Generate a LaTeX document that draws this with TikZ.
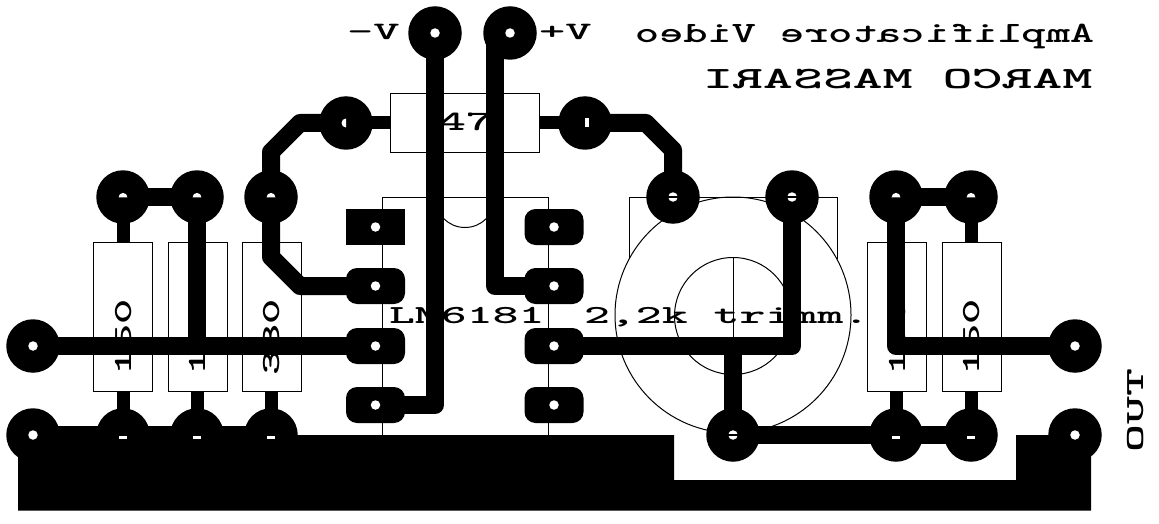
\documentclass[tikz,border=0pt]{standalone}
\usepackage{graphicx}
\newcommand{\lbl}[3]{\scalebox{#1}[1]{\fontsize{#2}{#2}\selectfont\ttfamily\bfseries #3}}
\tikzset{
  thin line/.style={line width=1pt,black},
  padc/.style={circle,fill=black,inner sep=0pt,outer sep=0pt,minimum size=53.5pt},
  padsq/.style={rectangle,fill=black,inner sep=0pt,outer sep=0pt,minimum width=59pt,minimum height=36pt},
  padob/.style={padsq,rounded corners=11pt},
  res/.style={rectangle,draw=black,line width=1pt,inner sep=0pt,outer sep=0pt,minimum width=59pt,minimum height=149pt},
  resh/.style={rectangle,draw=black,line width=1pt,inner sep=0pt,outer sep=0pt,minimum width=149pt,minimum height=59pt},
  track/.style={line width=18pt,black,line join=round},
  stub/.style={line width=13pt,black},
  txt/.style={inner sep=0pt,outer sep=0pt,black},
  hole/.style={circle,fill=white,inner sep=0pt,outer sep=0pt,minimum size=9.5pt},
  bar/.style={line width=1.2pt,black},
}
\begin{document}
\begin{tikzpicture}[x=1pt,y=-1pt]
\useasboundingbox (0,0) rectangle (1159,524);
\fill[white] (0,0) rectangle (1159,524);

% outlines
\node[res] (r1) at (123,317) {};
\node[res] (r2) at (197.5,317) {};
\node[res] (r3) at (272,317) {};
\node[res] (r4) at (897,317) {};
\node[res] (r5) at (971.5,317) {};
\node[resh] (r6) at (465,123) {};
\draw[thin line] (382.5,436) -- (382.5,197.5) -- (548.5,197.5) -- (548.5,436);
\draw[thin line] (435,197.5) arc (180:0:30);
\draw[thin line] (629.5,259) -- (629.5,197.5) -- (837.5,197.5) -- (837.5,259);
\draw[thin line] (733,315) circle (118);
\draw[thin line] (733,316) circle (58.5);
\draw[thin line] (733.5,258) -- (733.5,374);

% texts
\node[txt,anchor=base west] (tt1) at (635,43) {\scalebox{-1.56}[1]{\fontsize{29.5}{30}\selectfont\ttfamily\bfseries Amplificatore Video}};
\node[txt,anchor=base west] (tt2) at (703,89) {\scalebox{-1.84}[1]{\fontsize{31}{32}\selectfont\ttfamily\bfseries MARCO MASSARI}};
\node[txt,anchor=base west] (vm) at (347,40) {\lbl{2.0}{25}{-V}};
\node[txt,anchor=base west] (vp) at (539,40) {\lbl{2.0}{25}{+V}};
\node[txt,anchor=base west] (v47) at (438,130.5) {\lbl{1.9}{28}{47}};
\node[txt,anchor=base west] (ic) at (389,323) {\lbl{1.9}{26}{LM6181}};
\node[txt,anchor=base west] (tr) at (584,323) {\lbl{1.9}{26}{2,2k trimm.}};
\node[txt,anchor=base west,rotate=90] (l1) at (131,375) {\lbl{1.85}{26}{150}};
\node[txt,anchor=base west,rotate=90] (l2) at (205,375) {\lbl{1.85}{26}{150}};
\node[txt,anchor=base west,rotate=90] (l3) at (279,375) {\lbl{1.85}{26}{330}};
\node[txt,anchor=base west,rotate=90] (l4) at (905,375) {\lbl{1.85}{26}{150}};
\node[txt,anchor=base west,rotate=90] (l5) at (979,375) {\lbl{1.85}{26}{150}};
\node[txt,anchor=base west,rotate=90] (out) at (1143,452) {\lbl{2.05}{26}{OUT}};

% ground plane
\fill[black] (18,426) -- (271,426) -- (271,435) -- (674,435) -- (674,480) -- (1016,480) -- (1016,435) -- (1091,435) -- (1091,510.5) -- (18,510.5) -- cycle;

% pads
\node[padc] (pvm) at (435,33) {};
\node[padc] (pvp) at (510,33) {};
\node[padc] (pa) at (346,123) {};
\node[padc] (pb) at (585,123) {};
\node[padc] (t1) at (123,197) {};
\node[padc] (t2) at (197,197) {};
\node[padc] (t3) at (271,197) {};
\node[padc] (t4) at (673,197) {};
\node[padc] (t5) at (792,197) {};
\node[padc] (t6) at (896,197) {};
\node[padc] (t7) at (971,197) {};
\node[padc] (in) at (33,346) {};
\node[padc] (gl) at (33,435) {};
\node[padc] (b1) at (123,435) {};
\node[padc] (b2) at (197,435) {};
\node[padc] (b3) at (271,435) {};
\node[padc] (b4) at (733,435) {};
\node[padc] (b5) at (896,435) {};
\node[padc] (b6) at (971,435) {};
\node[padc] (ou) at (1075,346) {};
\node[padc] (gr) at (1075,435) {};
\node[padsq] (u1) at (375.5,227) {};
\node[padob] (u2) at (375.5,286) {};
\node[padob] (u3) at (375.5,346) {};
\node[padob] (u4) at (375.5,405) {};
\node[padob] (u8) at (554,227) {};
\node[padob] (u7) at (554,286) {};
\node[padob] (u6) at (554,346) {};
\node[padob] (u5) at (554,405) {};

% tracks
\draw[track] (in.center) -- (u3.center);
\draw[track] (t2.center) -- (t2 |- in);
\draw[track] (t1.center) -- (t2.center);
\draw[track] (t6.center) -- (t7.center);
\draw[track] (t3.center) -- (271,257) -- (300,286) -- (u2.center);
\draw[track] (t3.center) -- (271,152) -- (300,123) -- (pa.center);
\draw[track] (pb.center) -- (646,123) -- (673,150) -- (t4.center);
\draw[track] (pvm.center) -- (435,405) -- (u4.center);
\draw[track] (495,45) -- (495,286) -- (u7.center);
\draw[track] (t5.center) -- (792,346) -- (u6.center);
\draw[track] (733,346) -- (b4.center);
\draw[track] (b4.center) -- (b6.center);
\draw[track] (ou.center) -- (896,346) -- (t6.center);
\draw[stub] (t1.center) -- (t1 |- r1.north);
\draw[stub] (t7.center) -- (t7 |- r5.north);
\draw[stub] (b1 |- r1.south) -- (b1.center);
\draw[stub] (b2 |- r2.south) -- (b2.center);
\draw[stub] (b3 |- r3.south) -- (b3.center);
\draw[stub] (b5 |- r4.south) -- (b5.center);
\draw[stub] (b6 |- r5.south) -- (b6.center);
\draw[stub] (pa.center) -- (r6.west);
\draw[stub] (pb.center) -- (r6.east);

% drill holes
\foreach \n in {pvm,pvp,in,gl,ou,gr,u1,u2,u3,u4,u5,u6,u7,u8}
  \node[hole] at (\n) {};
% half holes, upper half visible
\foreach \x in {123,197,271,896,971}
  \fill[white] (\x-4.4,197.3) arc (180:360:4.4) -- cycle;
% slivers on the lower pads
\foreach \x in {123,197,271,896,971}
  \fill[white] (\x-4,436) rectangle (\x+4,439);
% holes with a thin bar
\foreach \n/\x/\y in {t4/673/197,t5/792/197,b4/733/435}{
  \node[hole] at (\n) {};
  \draw[bar] (\x-6,\y) -- (\x+6,\y);
}
% narrow holes on the top resistor
\fill[white] (346,118.5) arc (270:90:4.5) -- cycle;
\fill[white] (585,118.5) rectangle (588.5,127.5);
\end{tikzpicture}
\end{document}
